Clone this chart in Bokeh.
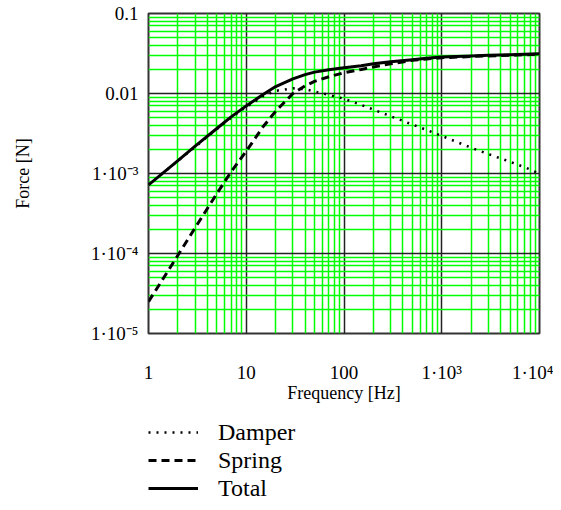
from bokeh.plotting import figure
from bokeh.models import FixedTicker, Legend, LegendItem, Range1d
from bokeh.layouts import column
from bokeh.embed import file_html
from bokeh.resources import INLINE

freq = [1, 2, 3, 5, 7, 10, 15, 20, 30, 40, 50, 70, 100, 150, 200, 300, 500, 700,
        1000, 2000, 3000, 5000, 7000, 10000]
damper = [7.2e-4, 1.44e-3, 2.15e-3, 3.6e-3, 5.0e-3, 6.8e-3, 9.3e-3, 1.08e-2, 1.16e-2,
          1.13e-2, 1.06e-2, 9.6e-3, 8.6e-3, 7.2e-3, 6.3e-3, 5.2e-3, 4.1e-3, 3.5e-3,
          2.95e-3, 2.1e-3, 1.75e-3, 1.4e-3, 1.2e-3, 1.0e-3]
spring = [2.5e-5, 9.5e-5, 2.1e-4, 5.6e-4, 1.05e-3, 1.9e-3, 3.9e-3, 6.0e-3, 1.0e-2,
          1.25e-2, 1.42e-2, 1.62e-2, 1.82e-2, 2.0e-2, 2.15e-2, 2.35e-2, 2.6e-2, 2.7e-2,
          2.8e-2, 2.9e-2, 2.95e-2, 3.0e-2, 3.05e-2, 3.1e-2]
total = [7.2e-4, 1.45e-3, 2.2e-3, 3.65e-3, 5.1e-3, 7.0e-3, 9.8e-3, 1.22e-2, 1.52e-2,
         1.72e-2, 1.85e-2, 1.98e-2, 2.1e-2, 2.22e-2, 2.35e-2, 2.5e-2, 2.65e-2, 2.75e-2,
         2.85e-2, 2.95e-2, 3.0e-2, 3.05e-2, 3.1e-2, 3.15e-2]

x_ticks = [1, 10, 100, 1000, 10000]
x_tick_labels = ["1", "10", "100", "1\u00b710\u00b3", "1\u00b710\u2074"]
y_ticks = [1e-5, 1e-4, 1e-3, 1e-2, 1e-1]
y_tick_labels = ["1\u00b710\u207b\u2075", "1\u00b710\u207b\u2074", "1\u00b710\u207b\u00b3", "0.01", "0.1"]

series_names = ["Damper", "Spring", "Total"]

FONT = "Liberation Serif"

x_minor = [m * 10 ** e for e in range(0, 4) for m in range(2, 10)]
y_minor = [m * 10.0 ** e for e in range(-5, -1) for m in range(2, 10)]

STYLES = [dict(line_width=2.5, line_dash="2 6"),
          dict(line_width=3, line_dash="8 5"),
          dict(line_width=3)]

p = figure(width=553, height=405, x_axis_type="log", y_axis_type="log",
           x_range=(1, 10000), y_range=(1e-5, 0.1),
           output_backend="svg", toolbar_location=None,
           min_border_left=148, min_border_right=14, min_border_top=13,
           min_border_bottom=67)

p.xaxis.ticker = FixedTicker(ticks=x_ticks, minor_ticks=x_minor)
p.yaxis.ticker = FixedTicker(ticks=y_ticks, minor_ticks=y_minor)
p.xaxis.major_label_overrides = {float(t): l for t, l in zip(x_ticks, x_tick_labels)}
p.yaxis.major_label_overrides = {float(t): l for t, l in zip(y_ticks, y_tick_labels)}

for g in (p.xgrid, p.ygrid):
    g.grid_line_color = "#222222"
    g.grid_line_width = 1.5
    g.grid_line_alpha = 1
    g.minor_grid_line_color = "#00ff00"
    g.minor_grid_line_width = 1.5

p.outline_line_color = "#333333"
p.outline_line_width = 2

for ax in (p.xaxis, p.yaxis):
    ax.axis_line_color = None
    ax.major_tick_line_color = None
    ax.minor_tick_line_color = None
    ax.major_tick_out = 0
    ax.major_tick_in = 0
    ax.minor_tick_out = 0
    ax.minor_tick_in = 0
    ax.major_label_text_font = FONT
    ax.major_label_text_font_size = "19px"
    ax.major_label_text_color = "black"
    ax.axis_label_text_font = FONT
    ax.axis_label_text_font_size = "18px"
    ax.axis_label_text_font_style = "normal"
    ax.axis_label_text_color = "black"

p.xaxis.axis_label = "Frequency [Hz]"
p.yaxis.axis_label = "Force [N]"
p.xaxis.major_label_standoff = 28
p.xaxis.axis_label_standoff = -3
p.yaxis.major_label_standoff = 10
p.yaxis.axis_label_standoff = 55

for ys, st in zip([damper, spring, total], STYLES):
    p.line(freq, ys, line_color="black", **st)

# legend panel below the chart (its renderers are hidden; only the legend shows)
q = figure(width=553, height=97, output_backend="svg", toolbar_location=None,
           x_axis_type="log", y_axis_type="log",
           x_range=Range1d(1, 10000), y_range=Range1d(1e-5, 0.1),
           min_border_left=148, min_border_right=14, min_border_top=13,
           min_border_bottom=0)
q.axis.visible = False
q.grid.visible = False
q.outline_line_color = None
leg_renderers = [q.line(freq, ys, line_color="black", visible=False, **st)
                 for ys, st in zip([damper, spring, total], STYLES)]

legend = Legend(items=[LegendItem(label=n, renderers=[r]) for n, r in
                       zip(series_names, leg_renderers)],
                location="top_left", orientation="vertical",
                background_fill_alpha=0, border_line_color=None,
                inactive_fill_alpha=0,
                label_text_font=FONT, label_text_font_size="24px",
                label_text_color="black",
                glyph_width=50, glyph_height=28, label_standoff=20,
                spacing=0, padding=0, margin=0, label_height=28)
q.add_layout(legend, "center")

open("out.html", "w").write(file_html(column(p, q), INLINE))
